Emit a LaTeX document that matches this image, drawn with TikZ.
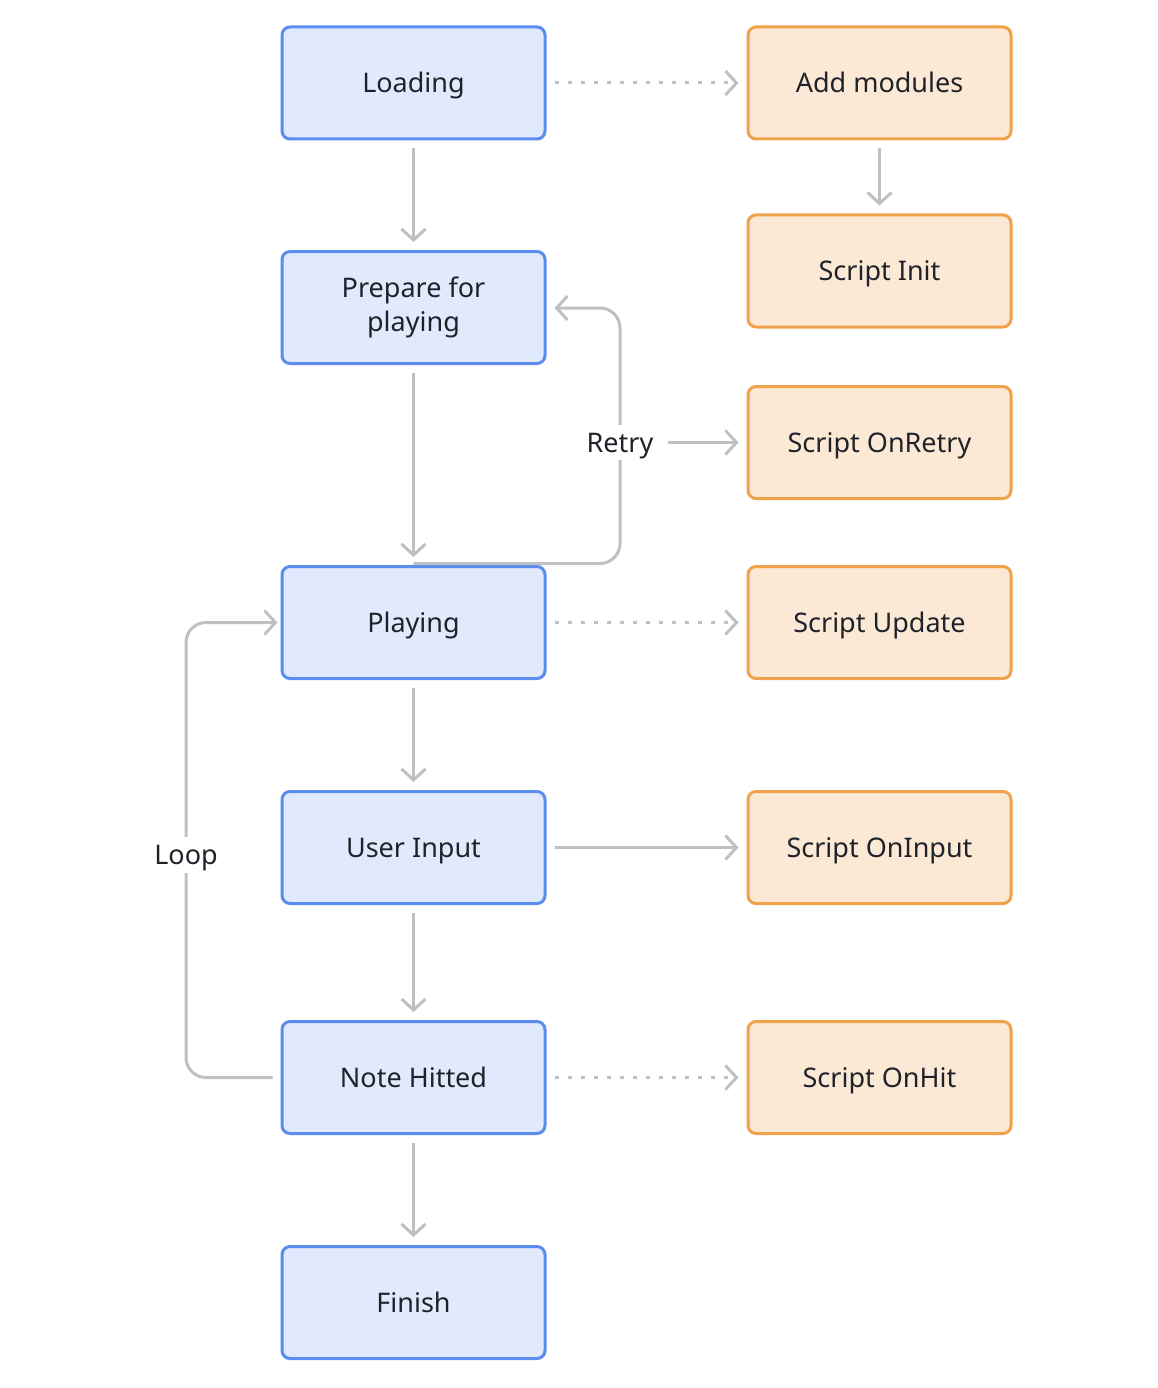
\documentclass[tikz,border=0pt]{standalone}
\usepackage{fontspec}
\setmainfont{Noto Sans}
\usetikzlibrary{arrows.meta}
\definecolor{bfill}{HTML}{E1EAFD}
\definecolor{bdraw}{HTML}{5B8DEF}
\definecolor{ofill}{HTML}{FBE9D6}
\definecolor{odraw}{HTML}{F0A24A}
\definecolor{conn}{HTML}{BFC0C4}
\definecolor{txt}{HTML}{1F2329}
\begin{document}
\begin{tikzpicture}[x=1pt,y=-1pt,
  box/.style={rounded corners=8pt,line width=3pt,minimum width=263pt,minimum height=112pt,inner sep=0pt,
    font=\fontsize{27}{34}\selectfont,text=txt,align=center},
  oneline/.style={text height=19.3pt,text depth=0pt},
  bluebox/.style={box,fill=bfill,draw=bdraw},
  orbox/.style={box,oneline,fill=ofill,draw=odraw},
  link/.style={draw=conn,line width=3pt,-{Straight Barb[length=11pt,width=24pt,line width=3pt]},shorten <=8pt,shorten >=8pt},
  dotlink/.style={link,dash pattern=on 4pt off 9pt},
  lbl/.style={font=\fontsize{27}{34}\selectfont,text=txt,fill=white,inner sep=8pt,oneline}]
\useasboundingbox (0,0) rectangle (1158,1388);
\node[bluebox,oneline] (load) at (413.5,83) {Loading};
\node[bluebox] (prep) at (413.5,307.5) {Prepare for\\playing};
\node[bluebox,oneline] (play) at (413.5,622.5) {Playing};
\node[bluebox,oneline] (input) at (413.5,847.5) {User Input};
\node[bluebox,oneline] (hit) at (413.5,1077.5) {Note Hitted};
\node[bluebox,oneline] (fin) at (413.5,1302.5) {Finish};
\node[orbox] (mods) at (879.5,83) {Add modules};
\node[orbox] (init) at (879.5,271) {Script Init};
\node[orbox] (retry) at (879.5,442.5) {Script OnRetry};
\node[orbox] (upd) at (879.5,622.5) {Script Update};
\node[orbox] (oninp) at (879.5,847.5) {Script OnInput};
\node[orbox] (onhit) at (879.5,1077.5) {Script OnHit};
% main flow
\draw[link] (load) -- (prep);
\draw[link] (prep) -- (play);
\draw[link] (play) -- (input);
\draw[link] (input) -- (hit);
\draw[link] (hit) -- (fin);
\draw[link] (mods) -- (init);
% side links
\draw[dotlink] (load) -- (mods);
\draw[dotlink] (play) -- (upd);
\draw[link] (input) -- (oninp);
\draw[dotlink] (hit) -- (onhit);
% retry
\coordinate (rs) at (413.5,563.5);
\draw[link,shorten <=0pt,rounded corners=20pt] (rs) -- (620,563.5) -- (620,308) -- (prep.east |- 0,308);
\node[lbl] (rlbl) at (620,442.5) {Retry};
\draw[link,shorten <=6pt] (rlbl.east) -- (rlbl.east -| retry.west);
% loop
\draw[link,shorten >=3pt,rounded corners=20pt] (hit.west) -- (186,1077.5) -- (186,622.5) -- (play.west);
\node[lbl] (llbl) at (186,855) {Loop};
\end{tikzpicture}
\end{document}
